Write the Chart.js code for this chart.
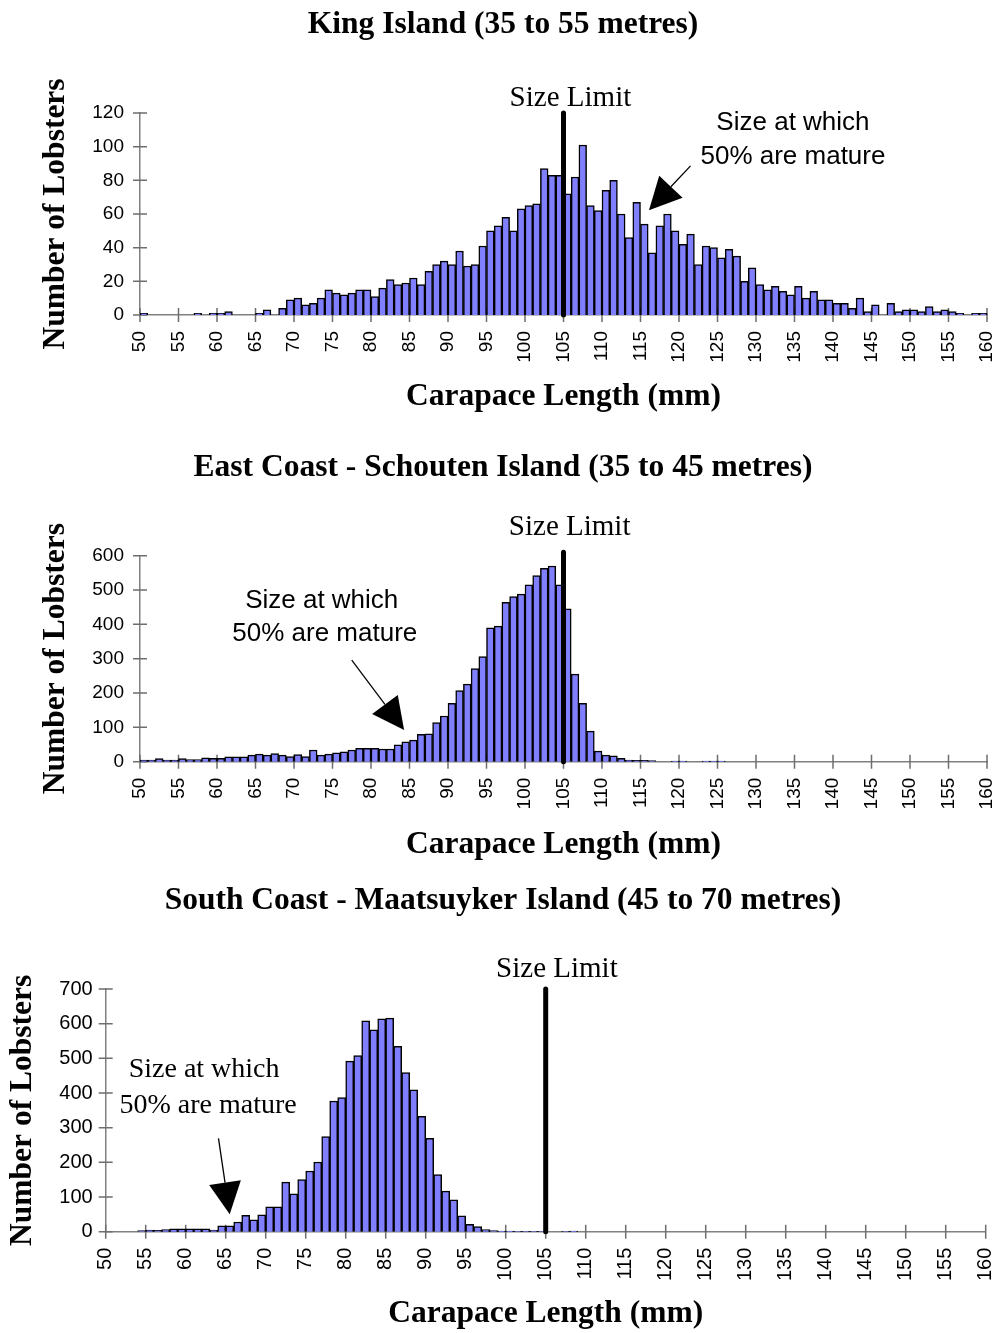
<!DOCTYPE html>
<html>
<head>
<meta charset="utf-8">
<script src="https://cdn.jsdelivr.net/npm/chart.js@4.4.0/dist/chart.umd.min.js"></script>
<style>
  body { margin: 0; background: #fff; width: 1006px; height: 1333px; overflow: hidden; position: relative; }
  canvas { position: absolute; left: 0; }
</style>
</head>
<body>
<canvas id="king" width="1006" height="430" style="top:0px"></canvas>
<canvas id="east" width="1006" height="440" style="top:430px"></canvas>
<canvas id="south" width="1006" height="463" style="top:870px"></canvas>
<script>
// 1 mm carapace length classes (each bar covers [class, class + 1))
const lengthClasses = [
  50, 51, 52, 53, 54, 55, 56, 57, 58, 59, 60, 61, 62, 63, 64, 65, 66, 67, 68, 69,
  70, 71, 72, 73, 74, 75, 76, 77, 78, 79, 80, 81, 82, 83, 84, 85, 86, 87, 88, 89,
  90, 91, 92, 93, 94, 95, 96, 97, 98, 99, 100, 101, 102, 103, 104, 105, 106, 107, 108, 109,
  110, 111, 112, 113, 114, 115, 116, 117, 118, 119, 120, 121, 122, 123, 124, 125, 126, 127, 128, 129,
  130, 131, 132, 133, 134, 135, 136, 137, 138, 139, 140, 141, 142, 143, 144, 145, 146, 147, 148, 149,
  150, 151, 152, 153, 154, 155, 156, 157, 158, 159
]

// number of lobsters per class
const kingIsland = [
  1, 0, 0, 0, 0, 0, 0, 1, 0, 1, 1, 2, 0, 0, 0, 1, 3, 0, 4, 9,
  10, 6, 7, 10, 15, 13, 12, 13, 15, 15, 11, 16, 21, 18, 19, 22, 18, 26, 30, 32,
  30, 38, 29, 30, 41, 50, 53, 58, 50, 63, 65, 66, 87, 83, 83, 72, 82, 101, 65, 62,
  74, 80, 60, 46, 67, 54, 37, 53, 60, 50, 42, 48, 30, 41, 40, 34, 39, 35, 20, 28,
  18, 15, 17, 14, 12, 17, 10, 14, 9, 9, 7, 7, 4, 10, 2, 6, 0, 7, 2, 3,
  3, 2, 5, 2, 3, 2, 1, 0, 1, 1
]
const schoutenIsland = [
  5, 5, 9, 5, 5, 9, 6, 6, 11, 10, 10, 14, 14, 14, 19, 22, 19, 24, 19, 15,
  21, 15, 34, 19, 22, 26, 29, 34, 39, 39, 39, 37, 37, 49, 58, 63, 80, 81, 114, 133,
  170, 207, 226, 271, 306, 390, 395, 464, 481, 488, 515, 542, 563, 570, 515, 445, 255, 170, 89, 31,
  19, 17, 10, 5, 4, 4, 3, 0, 0, 2, 2, 0, 0, 2, 2, 2, 0, 0, 0, 0,
  0, 0, 0, 0, 0, 0, 0, 0, 0, 0, 0, 0, 0, 0, 0, 0, 0, 0, 0, 0,
  0, 0, 0, 0, 0, 0, 0, 0, 0, 0
]
const maatsuykerIsland = [
  0, 0, 0, 0, 3, 5, 4, 6, 8, 8, 8, 8, 8, 5, 17, 17, 28, 47, 34, 49,
  72, 72, 143, 109, 150, 175, 201, 274, 377, 387, 492, 508, 608, 582, 614, 616, 535, 459, 409, 333,
  269, 165, 117, 92, 46, 21, 15, 6, 3, 2, 2, 1, 1, 1, 1, 0, 0, 1, 2, 0,
  0, 0, 0, 0, 0, 0, 0, 0, 0, 0, 0, 0, 0, 0, 0, 0, 0, 0, 0, 0,
  0, 0, 0, 0, 0, 0, 0, 0, 0, 0, 0, 0, 0, 0, 0, 0, 0, 0, 0, 0,
  0, 0, 0, 0, 0, 0, 0, 0, 0, 0
]

// tick labels
const lengthTicks = [50, 55, 60, 65, 70, 75, 80, 85, 90, 95, 100, 105, 110, 115, 120, 125, 130, 135, 140, 145, 150, 155, 160]
const kingTicks = [0, 20, 40, 60, 80, 100, 120]
const schoutenTicks = [0, 100, 200, 300, 400, 500, 600]
const maatsuykerTicks = [0, 100, 200, 300, 400, 500, 600, 700]

// legal minimum size (mm) and how high its marker line reaches
const sizeLimit = 105
const kingLimitTop = 120
const schoutenLimitTop = 610
const maatsuykerLimitTop = 700

const sans = "'Liberation Sans', Arial, sans-serif"
const serif = "'Liberation Serif', 'Times New Roman', serif"

Chart.defaults.color = '#000'
Chart.defaults.font.family = sans

// tick marks that cross the axis line
const crossTicks = {
  id: 'crossTicks',
  beforeDatasetsDraw(chart) {
    const ctx = chart.ctx
    const {x, y} = chart.scales
    ctx.save()
    ctx.strokeStyle = '#6e6e6e'
    ctx.lineWidth = 1.5
    ctx.beginPath()
    x.ticks.forEach(t => {
      const px = x.getPixelForValue(t.value)
      ctx.moveTo(px, y.bottom - 7)
      ctx.lineTo(px, y.bottom + 7)
    })
    y.ticks.forEach(t => {
      const py = y.getPixelForValue(t.value)
      ctx.moveTo(x.left - 7, py)
      ctx.lineTo(x.left + 7, py)
    })
    ctx.stroke()
    ctx.restore()
  }
}

// "Size Limit" caption and the 50% maturity note with its arrow
const notes = {
  id: 'notes',
  afterDatasetsDraw(chart, args, opts) {
    const ctx = chart.ctx
    const {x, y} = chart.scales
    ctx.save()
    ctx.fillStyle = '#000'
    ctx.strokeStyle = '#000'
    ctx.textAlign = 'center'
    ctx.textBaseline = 'alphabetic'

    ctx.font = opts.limitFont
    ctx.fillText('Size Limit', x.getPixelForValue(opts.limitAt[0]), y.getPixelForValue(opts.limitAt[1]))

    ctx.font = opts.matureFont
    opts.matureLines.forEach((line, i) => {
      ctx.fillText(line, x.getPixelForValue(opts.matureAt[i][0]), y.getPixelForValue(opts.matureAt[i][1]))
    })

    const fx = x.getPixelForValue(opts.arrowFrom[0]), fy = y.getPixelForValue(opts.arrowFrom[1])
    const tx = x.getPixelForValue(opts.arrowTo[0]), ty = y.getPixelForValue(opts.arrowTo[1])
    const len = Math.hypot(tx - fx, ty - fy)
    const ux = (tx - fx) / len, uy = (ty - fy) / len
    const head = 32, half = 16
    const bx = tx - ux * head, by = ty - uy * head
    ctx.lineWidth = 1.3
    ctx.beginPath()
    ctx.moveTo(fx, fy)
    ctx.lineTo(bx, by)
    ctx.stroke()
    ctx.beginPath()
    ctx.moveTo(tx, ty)
    ctx.lineTo(bx - uy * half, by + ux * half)
    ctx.lineTo(bx + uy * half, by - ux * half)
    ctx.closePath()
    ctx.fill()
    ctx.restore()
  }
}

function histogram(id, counts, yTicks, limitTop, o) {
  return new Chart(document.getElementById(id), {
    type: 'bar',
    data: {
      datasets: [
        {
          type: 'line',
          data: [{x: sizeLimit, y: 0}, {x: sizeLimit, y: limitTop}],
          borderColor: '#000',
          borderWidth: 5,
          borderCapStyle: 'round',
          pointRadius: 0,
          clip: false,
          order: 1
        },
        {
          data: counts.map((n, i) => ({x: lengthClasses[i] + 0.5, y: n})),
          backgroundColor: '#8080ff',
          borderColor: '#000',
          borderWidth: 1.5,
          barPercentage: 1,
          categoryPercentage: 1,
          order: 2
        }
      ]
    },
    options: {
      responsive: false,
      animation: false,
      devicePixelRatio: 1,
      layout: {padding: 0},
      plugins: {
        legend: {display: false},
        tooltip: {enabled: false},
        title: {
          display: true,
          text: o.title,
          color: '#000',
          font: {family: serif, size: 31.5, weight: 'bold', lineHeight: 1.2},
          padding: {top: o.titleTop, bottom: o.titleBottom}
        },
        notes: o.notes
      },
      scales: {
        x: {
          type: 'linear',
          min: 50,
          max: 160,
          offset: false,
          afterBuildTicks: s => { s.ticks = lengthTicks.map(v => ({value: v})) },
          afterFit: s => {
            // fixed band below the plot, and a fixed gap to the right edge
            s.height = o.bottom
            s.paddingLeft = 0
            s.paddingRight = o.right
          },
          grid: {display: false, drawTicks: false, offset: false},
          border: {display: true, color: '#808080', width: 1.5},
          ticks: {autoSkip: false, minRotation: 90, maxRotation: 90, padding: 16, color: '#000', font: {family: sans, size: o.tickSize}},
          title: {
            display: true,
            text: 'Carapace Length (mm)',
            color: '#000',
            font: {family: serif, size: 31.5, weight: 'bold', lineHeight: 1.2},
            padding: {top: 0, bottom: o.xTitlePad}
          }
        },
        y: {
          min: 0,
          max: yTicks[yTicks.length - 1],
          afterBuildTicks: s => { s.ticks = yTicks.map(v => ({value: v})) },
          afterFit: s => { s.width = o.left },
          grid: {display: false, drawTicks: false},
          border: {display: true, color: '#808080', width: 1.5},
          ticks: {padding: o.yTickPad, color: '#000', font: {family: sans, size: o.tickSize}},
          title: {
            display: true,
            text: 'Number of Lobsters',
            color: '#000',
            font: {family: serif, size: 31.5, weight: 'bold', lineHeight: 1.2},
            padding: {top: o.yTitlePad, bottom: 0}
          }
        }
      }
    },
    plugins: [crossTicks, notes]
  })
}

histogram('king', kingIsland, kingTicks, kingLimitTop, {
  title: 'King Island (35 to 55 metres)',
  titleTop: 5.5, titleBottom: 69.7,
  left: 140, right: 19, bottom: 115,
  tickSize: 19, yTickPad: 16, yTitlePad: 37, xTitlePad: 14,
  notes: {
    limitFont: '29px ' + serif,
    limitAt: [105.9, 124],
    matureFont: '26px ' + sans,
    matureLines: ['Size at which', '50% are mature'],
    matureAt: [[134.8, 109.8], [134.8, 90]],
    arrowFrom: [121.5, 88.6],
    arrowTo: [116.1, 62.3]
  }
})

histogram('east', schoutenIsland, schoutenTicks, schoutenLimitTop, {
  title: 'East Coast - Schouten Island (35 to 45 metres)',
  titleTop: 19.1, titleBottom: 68.8,
  left: 140, right: 19, bottom: 108.3,
  tickSize: 19, yTickPad: 16, yTitlePad: 37, xTitlePad: 6,
  notes: {
    limitFont: '29px ' + serif,
    limitAt: [105.8, 660],
    matureFont: '26px ' + sans,
    matureLines: ['Size at which', '50% are mature'],
    matureAt: [[73.6, 447], [74.0, 352]],
    arrowFrom: [77.5, 296],
    arrowTo: [84.3, 92]
  }
})

histogram('south', maatsuykerIsland, maatsuykerTicks, maatsuykerLimitTop, {
  title: 'South Coast - Maatsuyker Island (45 to 70 metres)',
  titleTop: 12.1, titleBottom: 69.1,
  left: 105.7, right: 20.3, bottom: 101.3,
  tickSize: 20, yTickPad: 13, yTitlePad: 4, xTitlePad: 0,
  notes: {
    limitFont: '29px ' + serif,
    limitAt: [106.4, 735],
    matureFont: '28px ' + serif,
    matureLines: ['Size at which', '50% are mature'],
    matureAt: [[62.3, 447], [62.8, 341.5]],
    arrowFrom: [64.1, 269],
    arrowTo: [65.5, 50]
  }
})
</script>
</body>
</html>
